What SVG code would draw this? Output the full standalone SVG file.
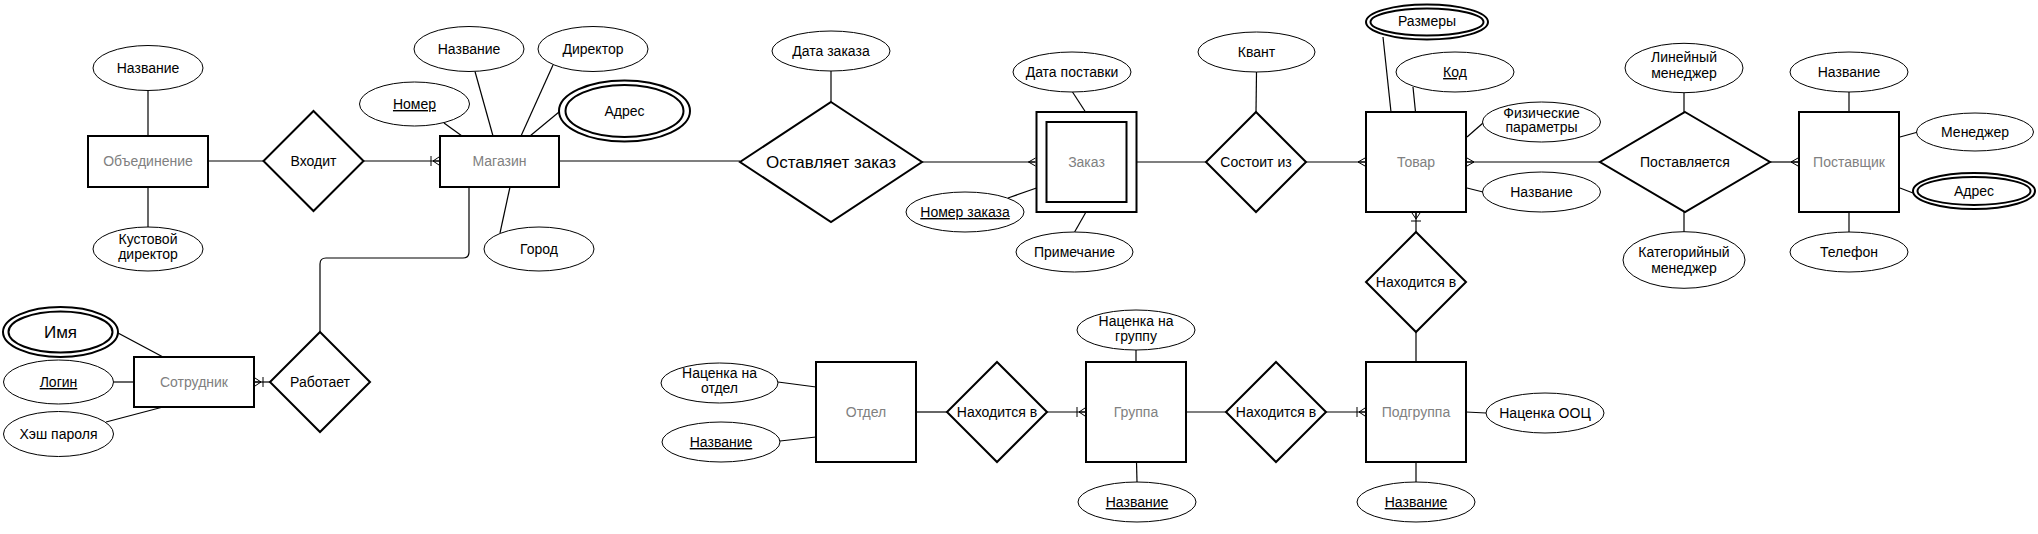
<svg xmlns="http://www.w3.org/2000/svg" width="2038" height="534" viewBox="0 0 2038 534">
<style>
text{font-family:"Liberation Sans",Arial,sans-serif;font-size:14px;text-anchor:middle;fill:#000}
.ent rect{fill:#fff;stroke:#000;stroke-width:2}
.ent text{fill:#808080}
.rel polygon{fill:#fff;stroke:#000;stroke-width:2}
.attr ellipse{fill:#fff;stroke:#000;stroke-width:1}
.attr ellipse.dbl{stroke-width:2}
.key{text-decoration:underline}
#connectors line,#connectors path{stroke:#000;stroke-width:1.2;fill:none}
.big{font-size:17px}
</style>
<defs>
<marker id="many" markerUnits="userSpaceOnUse" viewBox="-10 -6 11 12" markerWidth="11" markerHeight="12" refX="0" refY="0" orient="auto" overflow="visible">
<path d="M-7,0 L0,-4 M-7,0 L0,4 M-7,0 L0,0" fill="none" stroke="#000" stroke-width="1"/>
</marker>
<marker id="onemany" markerUnits="userSpaceOnUse" viewBox="-12 -6 13 12" markerWidth="13" markerHeight="12" refX="0" refY="0" orient="auto" overflow="visible">
<path d="M-6,0 L0,-4 M-6,0 L0,4 M-6,0 L0,0 M-8,-5 L-8,5" fill="none" stroke="#000" stroke-width="1"/>
</marker>
</defs>
<rect x="0" y="0" width="2038" height="534" fill="#fff"/>

<g id="connectors">
<line x1="148" y1="90.5" x2="148" y2="136"/>
<line x1="148" y1="187" x2="148" y2="227"/>
<line x1="444" y1="123" x2="462" y2="136"/>
<line x1="475" y1="71.5" x2="493" y2="136"/>
<line x1="553" y1="65" x2="521" y2="136"/>
<line x1="559" y1="112" x2="530" y2="136"/>
<line x1="510" y1="187" x2="500" y2="233"/>
<line x1="118" y1="333" x2="163" y2="357"/>
<line x1="113.5" y1="382" x2="134" y2="382"/>
<line x1="106" y1="422" x2="163" y2="407"/>
<line x1="831" y1="71" x2="831" y2="102"/>
<line x1="1072.5" y1="92" x2="1085.5" y2="112"/>
<line x1="1008" y1="198" x2="1036.5" y2="188"/>
<line x1="1086" y1="212" x2="1074.6" y2="232"/>
<line x1="1256.5" y1="72" x2="1256" y2="112"/>
<line x1="1383" y1="37" x2="1391" y2="112"/>
<line x1="1413" y1="87" x2="1415.5" y2="112"/>
<line x1="1467" y1="137" x2="1483" y2="123"/>
<line x1="1467" y1="188" x2="1483" y2="192"/>
<line x1="1684" y1="93" x2="1684" y2="112"/>
<line x1="1684" y1="212" x2="1684" y2="232"/>
<line x1="1849" y1="92" x2="1849" y2="112"/>
<line x1="1900" y1="137" x2="1918" y2="132"/>
<line x1="1900" y1="188" x2="1913" y2="193"/>
<line x1="1849" y1="212" x2="1849" y2="232"/>
<line x1="778" y1="382" x2="816" y2="387"/>
<line x1="780" y1="441" x2="816" y2="437"/>
<line x1="1136" y1="350" x2="1136" y2="362"/>
<line x1="1136.5" y1="462" x2="1137" y2="482"/>
<line x1="1466" y1="412" x2="1486" y2="413"/>
<line x1="1416" y1="462" x2="1416" y2="482"/>

<line x1="208" y1="161" x2="263.5" y2="161"/>
<line x1="363.5" y1="161" x2="439" y2="161" marker-end="url(#onemany)"/>
<line x1="559" y1="161" x2="740" y2="161"/>
<line x1="922" y1="162" x2="1035.5" y2="162" marker-end="url(#many)"/>
<line x1="1136.5" y1="162" x2="1206" y2="162"/>
<line x1="1306" y1="162" x2="1365" y2="162" marker-end="url(#many)"/>
<line x1="1600" y1="162" x2="1467" y2="162" marker-end="url(#many)"/>
<line x1="1770" y1="162" x2="1798" y2="162" marker-end="url(#many)"/>
<line x1="1416" y1="232" x2="1416" y2="213" marker-end="url(#onemany)"/>
<line x1="1416" y1="332" x2="1416" y2="362"/>
<path d="M469,187 V252 Q469,258 463,258 H326 Q320,258 320,264 V332"/>
<line x1="270" y1="382" x2="255" y2="382" marker-end="url(#onemany)"/>
<line x1="916" y1="412" x2="947" y2="412"/>
<line x1="1047" y1="412" x2="1085" y2="412" marker-end="url(#onemany)"/>
<line x1="1186" y1="412" x2="1226" y2="412"/>
<line x1="1326" y1="412" x2="1365" y2="412" marker-end="url(#onemany)"/>
</g>

<g id="e-obedinenie" class="ent"><rect x="88" y="136" width="120" height="51"/><text x="148" y="166">Объединение</text></g>
<g id="e-magazin" class="ent"><rect x="440" y="136" width="119" height="51"/><text x="499.5" y="166">Магазин</text></g>
<g id="e-sotrudnik" class="ent"><rect x="134" y="357" width="120" height="50"/><text x="194" y="387">Сотрудник</text></g>
<g id="e-zakaz" class="ent"><rect x="1036.5" y="112" width="100" height="100"/><rect x="1046.5" y="122" width="80" height="80"/><text x="1086.5" y="167">Заказ</text></g>
<g id="e-tovar" class="ent"><rect x="1366" y="112" width="100" height="100"/><text x="1416" y="167">Товар</text></g>
<g id="e-postavshik" class="ent"><rect x="1799" y="112" width="100" height="100"/><text x="1849" y="167">Поставщик</text></g>
<g id="e-otdel" class="ent"><rect x="816" y="362" width="100" height="100"/><text x="866" y="417">Отдел</text></g>
<g id="e-gruppa" class="ent"><rect x="1086" y="362" width="100" height="100"/><text x="1136" y="417">Группа</text></g>
<g id="e-podgruppa" class="ent"><rect x="1366" y="362" width="100" height="100"/><text x="1416" y="417">Подгруппа</text></g>

<g id="r-vhodit" class="rel"><polygon points="313.5,111 363.5,161 313.5,211 263.5,161"/><text x="313.5" y="166">Входит</text></g>
<g id="r-rabotaet" class="rel"><polygon points="320,332 370,382 320,432 270,382"/><text x="320" y="387">Работает</text></g>
<g id="r-ostavlyaet" class="rel"><polygon points="831,102 922,162 831,222 740,162"/><text class="big" x="831" y="168">Оставляет заказ</text></g>
<g id="r-sostoit" class="rel"><polygon points="1256,112 1306,162 1256,212 1206,162"/><text x="1256" y="167">Состоит из</text></g>
<g id="r-postavlyaetsya" class="rel"><polygon points="1685,112 1770,162 1685,212 1600,162"/><text x="1685" y="167">Поставляется</text></g>
<g id="r-nahoditsya1" class="rel"><polygon points="1416,232 1466,282 1416,332 1366,282"/><text x="1416" y="287">Находится в</text></g>
<g id="r-nahoditsya2" class="rel"><polygon points="997,362 1047,412 997,462 947,412"/><text x="997" y="417">Находится в</text></g>
<g id="r-nahoditsya3" class="rel"><polygon points="1276,362 1326,412 1276,462 1226,412"/><text x="1276" y="417">Находится в</text></g>

<g id="a-obed-nazv" class="attr"><ellipse cx="148" cy="68" rx="55" ry="22.5"/><text x="148" y="73">Название</text></g>
<g id="a-kust-dir" class="attr"><ellipse cx="148" cy="249" rx="55" ry="22"/><text x="148" y="244">Кустовой</text><text x="148" y="259">директор</text></g>
<g id="a-nomer" class="attr"><ellipse cx="414.5" cy="104" rx="55" ry="22"/><text class="key" x="414.5" y="109">Номер</text></g>
<g id="a-mag-nazv" class="attr"><ellipse cx="469" cy="49" rx="55" ry="22.5"/><text x="469" y="54">Название</text></g>
<g id="a-direktor" class="attr"><ellipse cx="593" cy="49" rx="55" ry="22.5"/><text x="593" y="54">Директор</text></g>
<g id="a-mag-adres" class="attr"><ellipse class="dbl" cx="624.5" cy="111" rx="65.5" ry="30.5"/><ellipse class="dbl" cx="624.5" cy="111" rx="59" ry="26"/><text x="624.5" y="116">Адрес</text></g>
<g id="a-gorod" class="attr"><ellipse cx="539" cy="249" rx="55" ry="22"/><text x="539" y="254">Город</text></g>
<g id="a-imya" class="attr"><ellipse class="dbl" cx="60.5" cy="332" rx="57.5" ry="25"/><ellipse class="dbl" cx="60.5" cy="332" rx="52" ry="20.5"/><text class="big" x="60.5" y="338">Имя</text></g>
<g id="a-login" class="attr"><ellipse cx="58.5" cy="382" rx="55" ry="22"/><text class="key" x="58.5" y="387">Логин</text></g>
<g id="a-hash" class="attr"><ellipse cx="58.5" cy="434" rx="55" ry="22.5"/><text x="58.5" y="439">Хэш пароля</text></g>
<g id="a-data-zakaza" class="attr"><ellipse cx="831" cy="51" rx="59" ry="20"/><text x="831" y="56">Дата заказа</text></g>
<g id="a-data-postavki" class="attr"><ellipse cx="1072" cy="72" rx="59" ry="20"/><text x="1072" y="77">Дата поставки</text></g>
<g id="a-nomer-zakaza" class="attr"><ellipse cx="965" cy="212" rx="59" ry="20"/><text class="key" x="965" y="217">Номер заказа</text></g>
<g id="a-primechanie" class="attr"><ellipse cx="1074.5" cy="252" rx="58.5" ry="20"/><text x="1074.5" y="257">Примечание</text></g>
<g id="a-kvant" class="attr"><ellipse cx="1256.5" cy="52" rx="58.5" ry="20"/><text x="1256.5" y="57">Квант</text></g>
<g id="a-razmery" class="attr"><ellipse class="dbl" cx="1427" cy="22" rx="61" ry="17.5"/><ellipse class="dbl" cx="1427" cy="22" rx="56.5" ry="13.5"/><text x="1427" y="26">Размеры</text></g>
<g id="a-kod" class="attr"><ellipse cx="1455" cy="72" rx="59" ry="20"/><text class="key" x="1455" y="77">Код</text></g>
<g id="a-fiz" class="attr"><ellipse cx="1541.5" cy="122" rx="59" ry="20"/><text x="1541.5" y="118">Физические</text><text x="1541.5" y="132">параметры</text></g>
<g id="a-tovar-nazv" class="attr"><ellipse cx="1541.5" cy="192" rx="59" ry="20"/><text x="1541.5" y="197">Название</text></g>
<g id="a-lin-men" class="attr"><ellipse cx="1684" cy="68" rx="59" ry="24.7"/><text x="1684" y="62">Линейный</text><text x="1684" y="78">менеджер</text></g>
<g id="a-kat-men" class="attr"><ellipse cx="1684" cy="260" rx="61" ry="28.3"/><text x="1684" y="257">Категорийный</text><text x="1684" y="273">менеджер</text></g>
<g id="a-post-nazv" class="attr"><ellipse cx="1849" cy="72" rx="59" ry="20"/><text x="1849" y="77">Название</text></g>
<g id="a-menedzher" class="attr"><ellipse cx="1975" cy="132" rx="58.5" ry="19"/><text x="1975" y="137">Менеджер</text></g>
<g id="a-post-adres" class="attr"><ellipse class="dbl" cx="1974" cy="191" rx="61" ry="18"/><ellipse class="dbl" cx="1974" cy="191" rx="56.5" ry="14"/><text x="1974" y="196">Адрес</text></g>
<g id="a-telefon" class="attr"><ellipse cx="1849" cy="252" rx="59" ry="20"/><text x="1849" y="257">Телефон</text></g>
<g id="a-nac-otdel" class="attr"><ellipse cx="719.5" cy="383" rx="58.5" ry="20"/><text x="719.5" y="378">Наценка на</text><text x="719.5" y="393">отдел</text></g>
<g id="a-otdel-nazv" class="attr"><ellipse cx="721" cy="442" rx="59" ry="20"/><text class="key" x="721" y="447">Название</text></g>
<g id="a-nac-gruppa" class="attr"><ellipse cx="1136" cy="330" rx="59" ry="20"/><text x="1136" y="326">Наценка на</text><text x="1136" y="341">группу</text></g>
<g id="a-gruppa-nazv" class="attr"><ellipse cx="1137" cy="502" rx="59" ry="20"/><text class="key" x="1137" y="507">Название</text></g>
<g id="a-nac-ooc" class="attr"><ellipse cx="1545" cy="413" rx="59" ry="20"/><text x="1545" y="418">Наценка ООЦ</text></g>
<g id="a-podgr-nazv" class="attr"><ellipse cx="1416" cy="502" rx="59" ry="20"/><text class="key" x="1416" y="507">Название</text></g>
</svg>
